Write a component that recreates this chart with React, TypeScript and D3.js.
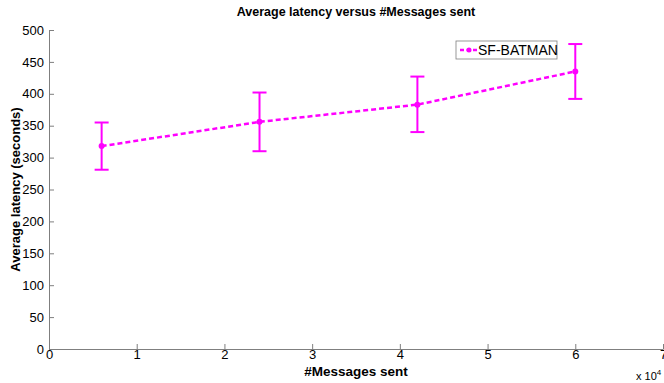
import { useEffect, useRef } from 'react';
import * as d3 from 'd3';

const MESSAGES = [6000, 24000, 42000, 60000];
const LATENCY = [318, 356, 383, 435];
const LOWER = [281, 310, 340, 392];
const UPPER = [355, 402, 427, 478];
const X_TICKS = [0, 1, 2, 3, 4, 5, 6, 7];
const Y_TICKS = [0, 50, 100, 150, 200, 250, 300, 350, 400, 450, 500];
const SERIES = 'SF-BATMAN';

const COLOR = '#ff00ff';
const FONT = '"Liberation Sans", Arial, Helvetica, sans-serif';

const App = () => {
  const svgRef = useRef<SVGSVGElement | null>(null);

  useEffect(() => {
    if (!svgRef.current) return;
    const width = 664;
    const height = 383;
    const margin = { top: 30, right: 1, bottom: 34, left: 49 };

    d3.select(svgRef.current).selectAll('*').remove();
    const svg = d3.select(svgRef.current).attr('width', width).attr('height', height);

    svg.append('rect').attr('width', width).attr('height', height).attr('fill', '#fff');

    const x = d3.scaleLinear().domain([0, 70000]).range([margin.left, width - margin.right]);
    const y = d3.scaleLinear().domain([0, 500]).range([height - margin.bottom, margin.top]);

    // x axis
    const xa = svg.append('g')
      .attr('transform', `translate(0,${y(0)})`)
      .call(d3.axisBottom(x).tickValues(X_TICKS.map(d => d * 10000))
        .tickFormat((d) => String(+d / 10000)).tickSizeInner(-5).tickSizeOuter(0).tickPadding(1));
    xa.selectAll('text').style('font-family', FONT).style('font-size', '13px').style('fill', '#000');

    // y axis
    const ya = svg.append('g')
      .attr('transform', `translate(${x(0)},0)`)
      .call(d3.axisLeft(y).tickValues(Y_TICKS).tickSizeInner(-5).tickSizeOuter(0).tickPadding(5));
    ya.selectAll('text').style('font-family', FONT).style('font-size', '13px').style('fill', '#000');

    svg.selectAll('.domain, .tick line').style('stroke', '#7f7f7f');

    // line
    const pts = MESSAGES.map((m, i) => [x(m), y(LATENCY[i])] as [number, number]);
    svg.append('path')
      .attr('d', d3.line()(pts))
      .attr('fill', 'none').attr('stroke', COLOR)
      .attr('stroke-width', 2.5).attr('stroke-dasharray', '5,3');

    // error bars
    const cap = 7;
    MESSAGES.forEach((m, i) => {
      const cx = x(m);
      const g = svg.append('g').attr('stroke', COLOR).attr('stroke-width', 2);
      g.append('line').attr('x1', cx).attr('x2', cx).attr('y1', y(LOWER[i])).attr('y2', y(UPPER[i]));
      g.append('line').attr('x1', cx - cap).attr('x2', cx + cap).attr('y1', y(LOWER[i])).attr('y2', y(LOWER[i]));
      g.append('line').attr('x1', cx - cap).attr('x2', cx + cap).attr('y1', y(UPPER[i])).attr('y2', y(UPPER[i]));
    });
    svg.selectAll('circle.pt').data(pts).join('circle')
      .attr('class', 'pt')
      .attr('cx', d => d[0]).attr('cy', d => d[1]).attr('r', 3)
      .attr('fill', COLOR);

    // title & labels
    svg.append('text').attr('x', (x(0) + x(70000)) / 2).attr('y', 16)
      .attr('text-anchor', 'middle').style('font-family', FONT)
      .style('font-size', '12.5px').style('font-weight', 'bold').text('Average latency versus #Messages sent');

    svg.append('text').attr('x', (x(0) + x(70000)) / 2).attr('y', 376)
      .attr('text-anchor', 'middle').style('font-family', FONT)
      .style('font-size', '13.5px').style('font-weight', 'bold').text('#Messages sent');

    svg.append('text')
      .attr('transform', `translate(20,${(y(0) + y(500)) / 2}) rotate(-90)`)
      .attr('text-anchor', 'middle').style('font-family', FONT)
      .style('font-size', '13px').style('font-weight', 'bold').text('Average latency (seconds)');

    const exp = svg.append('text').attr('x', 636).attr('y', 380)
      .style('font-family', FONT).style('font-size', '11px');
    exp.append('tspan').text('x 10');
    exp.append('tspan').attr('dy', -5).style('font-size', '8px').text('4');

    // legend
    const lg = svg.append('g').attr('transform', 'translate(456,41)');
    lg.append('rect').attr('width', 101).attr('height', 18)
      .attr('fill', '#fff').attr('stroke', '#7f7f7f').attr('stroke-width', 0.8);
    lg.append('line').attr('x1', 4).attr('x2', 22).attr('y1', 9).attr('y2', 9)
      .attr('stroke', COLOR).attr('stroke-width', 2.5).attr('stroke-dasharray', '4,2.5');
    lg.append('circle').attr('cx', 13).attr('cy', 9).attr('r', 2.5).attr('fill', COLOR);
    lg.append('text').attr('x', 22).attr('y', 14).style('font-family', FONT)
      .style('font-size', '14px').text(SERIES);
  }, []);

  return (
    <div style={{ position: 'absolute', left: 0, top: 0 }}>
      <svg ref={svgRef} />
    </div>
  );
};

export default App;
